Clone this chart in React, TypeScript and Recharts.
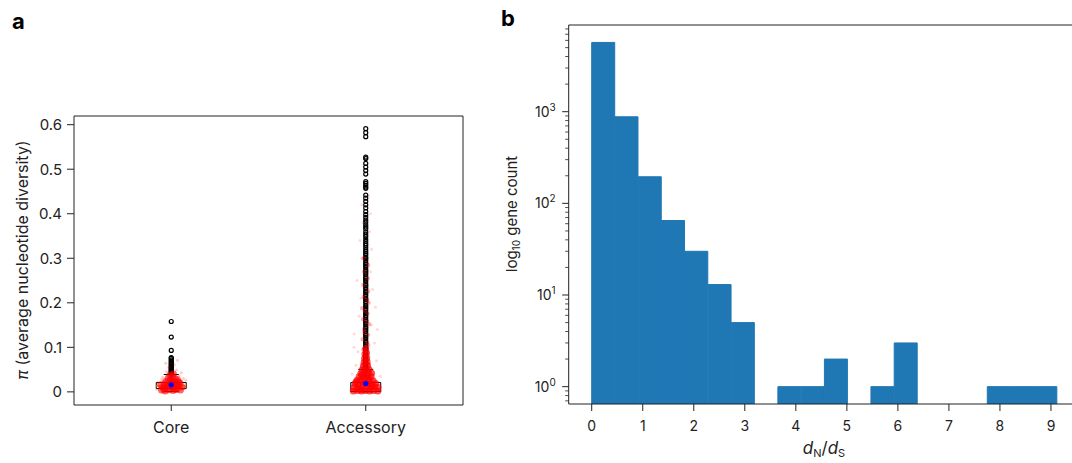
import React from "react";
import {
  ScatterChart,
  Scatter,
  ComposedChart,
  Bar,
  XAxis,
  YAxis,
  ReferenceLine,
  ReferenceArea,
} from "recharts";

// ---- panel a: nucleotide diversity ----
const groups = ["Core", "Accessory"];
const piTicks = [0, 0.1, 0.2, 0.3, 0.4, 0.5, 0.6];
// [whiskerLow, q1, median, q3, whiskerHigh, mean]
const coreBox = [0.0006, 0.0074, 0.0133, 0.0209, 0.039, 0.0157];
const accBox = [0.0, 0.0007, 0.006, 0.0209, 0.0506, 0.0186];

const coreOutliers = [
  0.158, 0.123, 0.093, 0.077, 0.075, 0.072, 0.069, 0.066, 0.063, 0.061, 0.058,
  0.056, 0.054, 0.052, 0.05, 0.048, 0.046, 0.044, 0.042, 0.04,
];
const accOutliers = [
  0.591, 0.582, 0.573, 0.527, 0.524, 0.513, 0.505, 0.497, 0.489, 0.472, 0.468,
  0.464, 0.46, 0.457, 0.442, 0.435, 0.428, 0.42, 0.413, 0.405, 0.398, 0.392,
  0.386, 0.381, 0.375, 0.37, 0.366, 0.359, 0.354, 0.349, 0.343, 0.338, 0.333,
  0.329, 0.324, 0.319, 0.315, 0.311, 0.307, 0.302, 0.299, 0.295, 0.29, 0.287,
  0.283, 0.279, 0.274, 0.271, 0.267, 0.263, 0.258, 0.255, 0.251, 0.247, 0.242,
  0.239, 0.235, 0.231, 0.226, 0.223, 0.219, 0.215, 0.21, 0.207, 0.203, 0.199,
  0.194, 0.191, 0.187, 0.183, 0.178, 0.175, 0.171, 0.167, 0.162, 0.159, 0.155,
  0.151, 0.146, 0.143, 0.139, 0.135, 0.13, 0.127, 0.123, 0.119, 0.114, 0.111,
  0.107, 0.103, 0.098, 0.095, 0.091, 0.087, 0.082, 0.079, 0.075, 0.071, 0.066,
  0.063, 0.059, 0.055, 0.052,
];

// jittered raw points: [offset from group centre, pi]
const coreDense = [
  [-0.05, 0.004], [-0.031, 0.002], [-0.012, 0.005], [0.009, 0.003], [0.028, 0.006], [0.047, 0.004],
  [-0.043, 0.011], [-0.024, 0.009], [-0.004, 0.012], [0.017, 0.01], [0.037, 0.013], [0.055, 0.011],
  [-0.054, 0.016], [-0.035, 0.018], [-0.015, 0.016], [0.006, 0.019], [0.026, 0.017], [0.045, 0.02],
  [-0.027, 0.024], [-0.007, 0.026], [0.014, 0.023], [0.032, 0.027],
  [-0.016, 0.031], [0.004, 0.033], [0.02, 0.03], [-0.006, 0.038], [0.011, 0.04],
  [-0.02, 0.013], [0.02, 0.006], [0.0, 0.021], [-0.038, 0.006], [0.038, 0.022],
];
const coreSparse = [
  [-0.07, 0.021], [0.068, 0.008], [-0.045, 0.033], [0.041, 0.036], [-0.024, 0.045],
  [0.027, 0.049], [0.016, 0.061], [-0.013, 0.055], [0.032, 0.071], [-0.028, 0.064],
  [0.075, 0.026], [-0.074, 0.006], [0.052, 0.043], [-0.05, 0.028], [0.062, 0.03],
];
const accDense = [
  [-0.064, 0.002], [-0.043, 0.003], [-0.022, 0.002], [-0.002, 0.003], [0.019, 0.002], [0.04, 0.003], [0.062, 0.002],
  [-0.06, 0.01], [-0.04, 0.009], [-0.019, 0.011], [0.002, 0.01], [0.023, 0.009], [0.044, 0.011], [0.063, 0.01],
  [-0.055, 0.018], [-0.034, 0.017], [-0.013, 0.019], [0.009, 0.018], [0.03, 0.017], [0.051, 0.019],
  [-0.044, 0.026], [-0.024, 0.025], [-0.004, 0.027], [0.017, 0.026], [0.038, 0.025],
  [-0.034, 0.034], [-0.013, 0.033], [0.007, 0.035], [0.027, 0.034],
  [-0.025, 0.042], [-0.006, 0.041], [0.013, 0.043], [0.03, 0.042],
  [-0.017, 0.05], [0.0, 0.049], [0.016, 0.051],
  [-0.012, 0.058], [0.009, 0.059], [-0.008, 0.066], [0.007, 0.067],
  [-0.006, 0.075], [0.005, 0.076], [-0.004, 0.085], [0.004, 0.087], [0.0, 0.097],
  [-0.03, 0.006], [0.03, 0.014], [-0.05, 0.022], [0.012, 0.03], [-0.02, 0.038],
];
const accMid = [
  [-0.012, 0.095], [0.013, 0.105], [-0.016, 0.118], [0.011, 0.128], [-0.009, 0.14],
  [0.017, 0.152], [-0.014, 0.163], [0.009, 0.176], [-0.018, 0.188], [0.014, 0.2],
  [-0.01, 0.213], [0.012, 0.226], [-0.013, 0.24], [0.01, 0.255], [-0.008, 0.27],
  [0.012, 0.285], [-0.011, 0.3], [0.008, 0.11], [-0.007, 0.133], [0.006, 0.158],
  [-0.005, 0.182], [0.007, 0.207],
];
const accSparse = [
  [-0.05, 0.06], [0.055, 0.07], [-0.04, 0.09], [0.045, 0.11], [-0.06, 0.13],
  [0.03, 0.15], [-0.035, 0.17], [0.05, 0.19], [-0.025, 0.21], [0.035, 0.23],
  [-0.045, 0.25], [0.025, 0.27], [-0.02, 0.3], [0.03, 0.32], [-0.03, 0.34],
  [0.02, 0.36], [-0.015, 0.38], [0.025, 0.4], [-0.02, 0.42], [0.015, 0.44],
  [-0.07, 0.04], [0.075, 0.035], [-0.06, 0.1], [0.06, 0.14],
];

// ---- panel b: dN/dS histogram ----
const binCounts = [
  5700, 880, 195, 65, 30, 13, 5, null, 1, 1, 2, null, 1, 3, null, null, null, 1, 1, 1,
];
const dnDsTicks = [0, 1, 2, 3, 4, 5, 6, 7, 8, 9];
const decades = [1, 10, 100, 1000];
const logTicks = [
  0.7, 0.8, 0.9, 1, 2, 3, 4, 5, 6, 7, 8, 9, 10, 20, 30, 40, 50, 60, 70, 80, 90,
  100, 200, 300, 400, 500, 600, 700, 800, 900, 1000, 2000, 3000, 4000, 5000,
  6000, 7000, 8000,
];

const BIN_START = 0;
const BIN_WIDTH = 0.456;
const X_MIN = -0.451;
const X_MAX = 9.412;
const B_PLOT_W = 503.3;

const INK = "#222";
const FONT = "Inter, 'Open Sans', sans-serif";

const toPoints = (centre: number, pairs: number[][]) =>
  pairs.map(([dx, y]) => ({ x: centre + dx, y }));
const toColumn = (centre: number, ys: number[]) => ys.map((y) => ({ x: centre, y }));

const dot = (r: number, fill: string, opacity: number) => (p: any) => (
  <circle cx={p.cx} cy={p.cy} r={r} fill={fill} fillOpacity={opacity} />
);
const ring = (p: any) => (
  <circle cx={p.cx} cy={p.cy} r={2} fill="none" stroke="#000" strokeWidth={1.2} />
);

function boxParts(pos: number, b: number[]) {
  const [lo, q1, med, q3, hi] = b;
  const hw = 0.077;
  const cw = 0.0385;
  return [
    <ReferenceArea key="box" x1={pos - hw} x2={pos + hw} y1={q1} y2={q3} fill="none" stroke="#000" strokeWidth={1} fillOpacity={0} />,
    <ReferenceLine key="wu" segment={[{ x: pos, y: q3 }, { x: pos, y: hi }]} stroke="#000" />,
    <ReferenceLine key="wl" segment={[{ x: pos, y: q1 }, { x: pos, y: lo }]} stroke="#000" />,
    <ReferenceLine key="cu" segment={[{ x: pos - cw, y: hi }, { x: pos + cw, y: hi }]} stroke="#000" />,
    <ReferenceLine key="cl" segment={[{ x: pos - cw, y: lo }, { x: pos + cw, y: lo }]} stroke="#000" />,
    <ReferenceLine key="md" segment={[{ x: pos - hw, y: med }, { x: pos + hw, y: med }]} stroke="#ff7f0e" strokeWidth={1.5} />,
  ];
}

function LogTick(props: any) {
  const { x, y, payload } = props;
  const v = payload.value;
  const major = decades.includes(v);
  const exp = Math.round(Math.log10(v));
  return (
    <g>
      <line x1={x - (major ? 6.5 : 3.5)} x2={x} y1={y} y2={y} stroke={INK} strokeWidth={major ? 1 : 0.8} />
      {major && (
        <text x={x - 13} y={y + 5} textAnchor="end" fontSize={14} fill={INK} fontFamily={FONT}>
          10<tspan dy={-6} fontSize={10}>{exp}</tspan>
        </text>
      )}
    </g>
  );
}

function PanelA() {
  const cMean = coreBox[5];
  const accMean = accBox[5];
  return (
    <ScatterChart width={480} height={463} margin={{ top: 116, right: 17, bottom: 18, left: 24 }}>
      <XAxis
        type="number"
        dataKey="x"
        domain={[0.5, 2.5]}
        ticks={[1, 2]}
        tickFormatter={(v) => groups[v - 1]}
        tickSize={6}
        tickMargin={11}
        height={40}
        axisLine={{ stroke: INK }}
        tickLine={{ stroke: INK }}
        tick={{ fill: INK, fontSize: 16 }}
      />
      <YAxis
        type="number"
        dataKey="y"
        domain={[-0.0295, 0.6195]}
        ticks={piTicks}
        interval={0}
        tickFormatter={(v) => (v === 0 ? "0" : v.toFixed(1))}
        tickSize={7}
        tickMargin={5}
        width={50}
        axisLine={{ stroke: INK }}
        tickLine={{ stroke: INK }}
        tick={{ fill: INK, fontSize: 15 }}
      />
      <ReferenceLine y={0.6195} stroke={INK} />
      <ReferenceLine x={2.5} stroke={INK} />
      {boxParts(1, coreBox)}
      {boxParts(2, accBox)}
      <Scatter data={toColumn(1, coreOutliers)} shape={ring} isAnimationActive={false} />
      <Scatter data={toColumn(2, accOutliers)} shape={ring} isAnimationActive={false} />
      <Scatter data={toPoints(1, coreDense)} shape={dot(3.5, "#ff0000", 0.6)} isAnimationActive={false} />
      <Scatter data={toPoints(1, coreSparse)} shape={dot(1.5, "#ff0000", 0.2)} isAnimationActive={false} />
      <Scatter data={toPoints(2, accDense)} shape={dot(3.5, "#ff0000", 0.7)} isAnimationActive={false} />
      <Scatter data={toPoints(2, accMid)} shape={dot(2.2, "#ff0000", 0.3)} isAnimationActive={false} />
      <Scatter data={toPoints(2, accSparse)} shape={dot(1.5, "#ff0000", 0.15)} isAnimationActive={false} />
      <Scatter
        data={[{ x: 1, y: cMean }, { x: 2, y: accMean }]}
        shape={dot(2.6, "#0000ff", 1)}
        isAnimationActive={false}
      />
    </ScatterChart>
  );
}

function PanelB() {
  const data = binCounts.map((count, bin) => ({
    bin,
    centre: BIN_START + (bin + 0.5) * BIN_WIDTH,
    count,
  }));
  const span = X_MAX - X_MIN;
  const padL = ((BIN_START - X_MIN) / span) * B_PLOT_W;
  const padR = ((X_MAX - (BIN_START + binCounts.length * BIN_WIDTH)) / span) * B_PLOT_W;
  return (
    <ComposedChart
      width={592}
      height={463}
      data={data}
      barCategoryGap={0}
      barGap={0}
      margin={{ top: 25, right: 0, bottom: 19, left: 28.7 }}
    >
      <XAxis xAxisId="cat" dataKey="bin" hide height={0} padding={{ left: padL, right: padR }} />
      <XAxis
        xAxisId="num"
        dataKey="centre"
        type="number"
        domain={[X_MIN, X_MAX]}
        ticks={dnDsTicks}
        interval={0}
        allowDataOverflow
        tickSize={7}
        tickMargin={10}
        height={40}
        axisLine={{ stroke: INK }}
        tickLine={{ stroke: INK }}
        tick={{ fill: INK, fontSize: 14 }}
      />
      <YAxis
        type="number"
        scale="log"
        domain={[0.647, 8830]}
        allowDataOverflow
        ticks={logTicks}
        interval={0}
        tick={<LogTick />}
        tickLine={false}
        tickSize={0}
        tickMargin={0}
        width={60}
        axisLine={{ stroke: INK }}
      />
      <ReferenceLine xAxisId="num" y={8830} stroke={INK} />
      <Bar
        xAxisId="cat"
        dataKey="count"
        fill="#1f77b4"
        stroke="#1f77b4"
        strokeWidth={1}
        isAnimationActive={false}
      />
    </ComposedChart>
  );
}

const abs = (left: number, top: number): React.CSSProperties => ({
  position: "absolute",
  left,
  top,
});

export default function App() {
  return (
    <div
      style={{
        position: "absolute",
        left: 0,
        top: 0,
        width: 1072,
        height: 463,
        overflow: "hidden",
        background: "#fff",
        fontFamily: FONT,
        color: INK,
      }}
    >
      <div style={abs(0, 0)}>
        <PanelA />
      </div>
      <div style={abs(480, 0)}>
        <PanelB />
      </div>
      <div style={{ ...abs(12, 8), fontSize: 22, fontWeight: 700, color: "#000" }}>a</div>
      <div style={{ ...abs(501, 5), fontSize: 22, fontWeight: 700, color: "#000" }}>b</div>
      <div
        style={{
          ...abs(22, 260),
          fontSize: 16,
          whiteSpace: "nowrap",
          transform: "translate(-50%, -50%) rotate(-90deg)",
        }}
      >
        <i>π</i> (average nucleotide diversity)
      </div>
      <div
        style={{
          ...abs(512, 214),
          fontSize: 15,
          whiteSpace: "nowrap",
          transform: "translate(-50%, -50%) rotate(-90deg)",
        }}
      >
        log<sub style={{ fontSize: 10, verticalAlign: -3 }}>10</sub> gene count
      </div>
      <div
        style={{
          ...abs(824, 449),
          fontSize: 17,
          whiteSpace: "nowrap",
          transform: "translate(-50%, -50%)",
        }}
      >
        <i>d</i>
        <sub style={{ fontSize: 11, verticalAlign: -3 }}>N</sub>/<i>d</i>
        <sub style={{ fontSize: 11, verticalAlign: -3 }}>S</sub>
      </div>
    </div>
  );
}
